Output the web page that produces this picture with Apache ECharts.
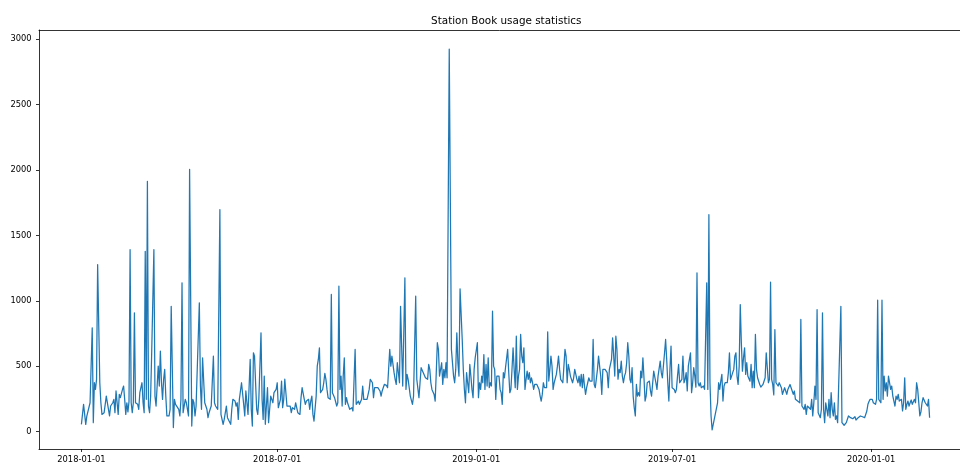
<!DOCTYPE html>
<html>
<head>
<meta charset="utf-8">
<title>Station Book usage statistics</title>
<script src="https://cdn.jsdelivr.net/npm/echarts@6/dist/echarts.min.js"></script>
<style>
  html, body { margin: 0; padding: 0; background: #fff; }
  #chart { width: 960px; height: 464px; }
</style>
</head>
<body>
<div id="chart"></div>
<script>
// Daily usage counts; first number of each pair = days since 2018-01-01.
const usage2018 = [
  [0,55],[2,208],[3,208],[4,55],[5,118],[6,106],[8,220],[10,793],[11,68],[12,373],[13,322],[14,399],[15,1277],[17,373],[18,220],[19,131],[21,144],[23,271],[24,271],[26,119],[27,195],[29,220],[30,246],[31,144],[32,310],[33,322],[34,131],[35,284],[36,259],[38,322],[39,348],[40,246],[41,131],[42,220],[43,150],[44,230],[45,1391],[46,220],[47,144],[48,220],[49,908],[50,220],[52,208],[53,170],[54,297],[56,373],[57,220],[58,144],[59,1378],[60,246],[61,1913],[62,195],[63,144],[64,271],[65,615],[66,628],[67,1391],[68,271],[69,195],[71,500],[72,348],[73,615],[74,373],[75,246],[76,399],[77,475],[78,271],[79,119],[81,119],[82,170],[83,958],[85,30],[86,246],[87,208],[88,220],[90,170],[91,119],[92,246],[93,1137],[94,144],[95,144],[96,246],[97,220],[99,119],[100,2005],
  [102,42],[103,246],[104,220],[105,119],[106,195],[107,195],[109,984],[110,348],[111,170],[112,564],[114,220],[115,195],[116,170],[117,106],[118,144],[119,170],[120,195],[122,577],[123,220],[124,195],[126,170],[128,1697],[129,131],[131,55],[132,93],[134,195],[135,106],[136,119],[138,55],[139,170],[140,246],[142,233],[143,195],[144,220],[145,93],[146,246],[148,373],[150,208],[151,119],[152,310],[154,131],[155,119],[156,551],[157,170],[158,42],[159,602],[160,577],[162,170],[163,131],[164,246],[166,755],[167,246],[168,93],[169,424],[170,55],[172,335],[173,68],[174,170],[175,271],[177,220],[178,297],[179,284],[180,322],[181,373],[182,182],[184,246],[185,386],[186,182],[187,246],[188,400],[190,195],[191,182],
  [193,195],[194,144],[195,182],[197,170],[198,220],[199,182],[200,144],[202,131],[203,259],[204,335],[205,322],[206,246],[207,208],[208,233],[210,246],[211,170],[212,233],[213,271],[214,131],[215,80],[217,271],[218,500],[219,551],[220,640],[221,297],[222,310],[223,322],[224,373],[225,444],[226,399],[227,322],[228,259],[229,259],[230,246],[231,1048],[232,297],[234,259],[235,246],[236,195],[237,220],[238,1111],[239,322],[240,424],[241,195],[242,424],[243,564],[244,208],[245,259],[246,220],[247,208],[248,170],[250,182],[251,157],[252,144],[253,628],[254,208],[256,233],[257,208],[258,220],[259,246],[260,348],[261,246],[262,259],[264,246],[265,259],[266,322],[267,399],[269,373],[270,259],[271,335],[272,322],[274,335],[275,322],[276,310],[277,271],[278,310],[280,360],[281,348],[282,353],[283,335],[284,322],[285,628],
  [286,500],[287,577],[289,450],[290,399],[291,360],[292,526],[293,513],[294,373],[295,958],[297,348],[298,335],[299,1175],[300,322],[301,437],[302,399],[303,335],[304,271],[305,259],[306,208],[307,271],[308,271],[309,1035],[310,399],[312,259],[313,373],[314,488],[315,475],[316,450],[318,411],[319,424],[320,399],[321,513],[322,475],[323,373],[324,322],[325,335],[326,284],[327,233],[328,450],[329,679],[330,628],[331,424],[333,526],[334,360],[335,475],[336,411],[337,526],[338,411],[339,411],[340,2925],[342,628],[343,640],[344,424],[345,373],[346,475],[347,755],[348,526],[349,424],[350,1091],[352,704],[353,475],[354,322],[355,220],[356,450],[357,373],[358,297],[359,513],[360,424],[361,322],[362,259],[363,475],[364,564]
];

const usage2019 = [
  [366,679],[367,259],[368,373],[369,322],[370,424],[371,373],[372,589],[373,322],[374,513],[375,348],[376,564],[377,335],[378,373],[379,348],[380,920],[381,500],[382,475],[383,246],[384,424],[386,424],[387,322],[388,297],[389,208],[390,450],[391,411],[392,488],[393,500],[394,628],[395,450],[396,297],[397,322],[398,475],[399,640],[400,475],[401,335],[402,729],[403,322],[404,424],[405,475],[406,742],[407,577],[408,526],[409,640],[410,322],[411,399],[412,462],[413,399],[414,450],[415,373],[416,411],[417,373],[418,322],[419,360],[420,348],[421,360],[422,348],[423,322],[424,271],[425,233],[426,284],[427,373],[428,335],[429,335],[430,335],[431,763],[432,386],[433,475],[434,577],[435,500],[436,322],[437,373],[438,386],[439,437],[440,500],[441,577],[442,475],[443,399],[444,411],[445,373],[446,386],[447,628],[448,577],[449,373],[450,513],[451,475],[452,424],[453,411],[454,373],[455,411],[456,475],[457,462],[458,399],[459,373],[460,424],[461,348],[462,437],[463,335],[464,437],[465,348],[466,284],[467,335],[468,373],[469,411],[470,386],[471,373],[472,386],[473,704],[474,360],[475,335],[476,322],[477,475],[478,577],[479,564],
  [480,424],[481,284],[482,475],[483,462],[484,475],[485,488],[486,450],[487,335],[488,475],[489,475],[490,551],[491,717],[492,577],[493,424],[494,729],[495,628],[496,400],[497,475],[498,450],[499,539],[500,424],[501,373],[502,424],[503,450],[504,526],[505,679],[506,577],[507,399],[508,373],[509,488],[510,271],[511,182],[512,119],[513,360],[514,271],[515,297],[516,271],[517,462],[518,411],[519,564],[520,411],[521,233],[522,271],[523,373],[524,386],[525,386],[526,310],[527,271],[528,259],[529,462],[531,373],[532,322],[533,424],[534,437],[535,539],[536,450],[537,411],[538,424],[539,600],[540,704],[541,551],[542,373],[543,233],[544,475],[545,653],[546,335],[547,335],[548,322],[549,297],[550,322],[551,424],[552,513],[553,373],[554,360],[555,399],[556,577],[557,373],[558,399],[559,450],[560,310],[561,500],[562,551],[563,602],[564,297],[565,373],[566,488],[567,424],[568,340],[569,1213],[570,373],[571,348],[572,373],[573,335],[574,335],[575,348],[576,322],[577,335],[578,1137],[579,322],[580,1658],
  [581,373],[582,119],[583,12],[588,220],[589,373],[590,322],[591,386],[592,437],[593,233],[594,348],[595,373],[596,385],[597,373],[598,450],[599,602],[600,399],[601,424],[602,450],[603,475],[604,577],[605,602],[606,424],[607,360],[608,500],[609,971],[610,679],[611,462],[612,564],[613,640],[614,437],[615,526],[616,424],[617,411],[618,385],[619,513],[620,335],[621,462],[622,335],[623,742],[624,475],[625,411],[626,399],[627,360],[628,340],[629,348],[630,360],[631,373],[632,411],[633,602],[634,488],[635,373],[636,399],[637,1142],[638,399],[639,360],[640,280],[641,780],[642,373],[643,386],[644,348],[645,373],[646,373],[647,335],[648,284],[649,310],[650,335],[651,310],[652,284],[653,322],[654,335],[655,360],[656,345],[657,310],[658,284],[659,310],[660,246],[661,246],[662,233],[663,220],[664,220],[665,857],[666,195],[667,208],[668,170],[669,208],[670,131],[671,195],[672,208],
  [674,170],[675,246],[676,119],[677,220],[678,348],[679,246],[680,933],[681,144],[682,131],[683,106],[684,170],[685,908],[686,170],[687,68],[688,220],[689,170],[690,119],[691,246],[692,106],[693,297],[694,170],[695,119],[696,220],[697,93],[698,119],[699,68],[700,80],[702,958],[703,68],[704,55],[705,48],[706,60],[707,68],[708,80],[709,119],[710,124],[711,106],[712,100],[713,98],[714,106],[715,113],[716,88],[717,95],[718,106],[719,98],[720,119],[721,106],[722,113],[723,106],[724,106],[725,119],[726,157],[727,208],[728,230],[729,246]
];

const usage2020 = [
  [730,241],[731,246],[732,220],[733,215],[734,208],[735,246],[736,1004],[737,246],[738,233],[739,220],[740,1004],[741,246],[742,424],[743,310],[744,373],[745,271],[746,424],[747,373],[748,322],[749,348],[750,271],[751,271],[752,195],[753,271],[754,246],[755,284],[756,233],[757,220],[758,246],[759,157],[760,220],[761,411],[762,170],[763,208],[764,233],[765,195],[766,220],[767,241],[768,208],[769,220],[770,246],[771,220],[772,373],[773,322],[774,220],[775,119],[776,150],[777,220],[778,259],[779,246],[780,220],[781,208],[782,195],[783,246],[784,106]
];

const dateTicks = ['2018-01-01', '2018-07-01', '2019-01-01', '2019-07-01', '2020-01-01'];
const valueTicks = [0, 500, 1000, 1500, 2000, 2500, 3000];

const DAY_MS = 86400000;
const START_MS = Date.UTC(2018, 0, 1);

// x is measured in days since START_MS
const seriesData = usage2018.concat(usage2019, usage2020);

// 5% padding on both ends of the data span
const firstDay = seriesData[0][0];
const lastDay = seriesData[seriesData.length - 1][0];
const padDay = (lastDay - firstDay) * 0.05;
const counts = seriesData.map(d => d[1]);
const cMin = Math.min.apply(null, counts);
const cMax = Math.max.apply(null, counts);
const padC = (cMax - cMin) * 0.05;

// The plot frame runs 12px past the right edge of the 960px canvas,
// so the visible x window stops a little short of the padded end.
const GRID_LEFT = 39;
const FULL_WIDTH = 933;
const VISIBLE_WIDTH = 960 - GRID_LEFT;
const xMin = firstDay - padDay;
const xMax = xMin + (lastDay - firstDay + 2 * padDay) * (VISIBLE_WIDTH / FULL_WIDTH);

const tickDays = dateTicks.map(s => Math.round((Date.parse(s + 'T00:00:00Z') - START_MS) / DAY_MS));
const fmtDay = d => new Date(START_MS + Math.round(d) * DAY_MS).toISOString().slice(0, 10);

const FONT = '"DejaVu Sans", sans-serif';
const AXIS_COLOR = '#000';
const AXIS_W = 0.8;

const chart = echarts.init(document.getElementById('chart'), null, { renderer: 'canvas' });
chart.setOption({
  animation: false,
  backgroundColor: '#ffffff',
  graphic: [{
    type: 'text',
    x: 506.3,
    y: 20.8,
    silent: true,
    style: {
      text: 'Station Book usage statistics',
      fontFamily: FONT,
      fontSize: 10.4,
      fill: '#000',
      align: 'center',
      verticalAlign: 'middle'
    }
  }],
  grid: {
    left: GRID_LEFT,
    right: 0,
    top: 30,
    bottom: 15,
    show: false
  },
  xAxis: [{
    type: 'value',
    position: 'bottom',
    min: xMin,
    max: xMax,
    axisLine: { show: true, onZero: false, lineStyle: { color: AXIS_COLOR, width: AXIS_W } },
    splitLine: { show: false },
    axisTick: {
      show: true,
      customValues: tickDays,
      length: 3,
      lineStyle: { color: AXIS_COLOR, width: AXIS_W }
    },
    axisLabel: {
      customValues: tickDays,
      formatter: fmtDay,
      margin: 7,
      fontFamily: FONT,
      fontSize: 8.3,
      color: '#000'
    }
  }, {
    // top edge of the frame
    type: 'value',
    position: 'top',
    min: xMin,
    max: xMax,
    axisLine: { show: true, onZero: false, lineStyle: { color: AXIS_COLOR, width: AXIS_W } },
    axisTick: { show: false },
    axisLabel: { show: false },
    splitLine: { show: false }
  }],
  yAxis: {
    type: 'value',
    min: cMin - padC,
    max: cMax + padC,
    axisLine: { show: true, onZero: false, lineStyle: { color: AXIS_COLOR, width: AXIS_W } },
    splitLine: { show: false },
    axisTick: {
      show: true,
      customValues: valueTicks,
      length: 3,
      lineStyle: { color: AXIS_COLOR, width: AXIS_W }
    },
    axisLabel: {
      customValues: valueTicks,
      formatter: v => String(v),
      margin: 7.5,
      fontFamily: FONT,
      fontSize: 8.3,
      color: '#000'
    }
  },
  series: [{
    type: 'line',
    xAxisIndex: 0,
    data: seriesData,
    showSymbol: false,
    symbol: 'none',
    lineStyle: { color: '#1f77b4', width: 1.25, join: 'round' },
    emphasis: { disabled: true }
  }]
});
</script>
</body>
</html>
